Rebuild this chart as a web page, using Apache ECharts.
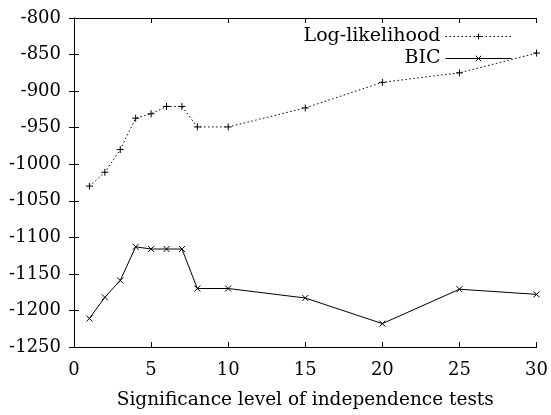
<!DOCTYPE html>
<html>
<head>
<meta charset="utf-8">
<script src="https://cdn.jsdelivr.net/npm/echarts@6/dist/echarts.min.js"></script>
<style>
  html, body { margin: 0; padding: 0; background: #fff; }
  #chart { width: 551px; height: 415px; }
</style>
</head>
<body>
<div id="chart"></div>
<script>
// values
const levels = [1, 2, 3, 4, 5, 6, 7, 8, 10, 15, 20, 25, 30];
const logLikelihood = [-1030, -1011, -980, -937, -931, -921, -921, -949, -949, -923, -888, -875, -848];
const bic = [-1211, -1182, -1159, -1113, -1116, -1116, -1116, -1170, -1170, -1183, -1218, -1171, -1178];
const xTicks = [0, 30, 5];
const yTicks = [-1250, -800, 50];

const font = '"DejaVu Serif", "Liberation Serif", serif';
const plus = 'path://M0,5L10,5M5,0L5,10';
const cross = 'path://M0,0L10,10M10,0L0,10';

const pairs = vals => levels.map((x, i) => [x, vals[i]]);

const tickStyle = { show: true, inside: true, length: 5, lineStyle: { color: '#000' } };
const lineAxis = { show: true, lineStyle: { color: '#000', width: 1 } };

const baseX = show => ({
  type: 'value',
  min: xTicks[0],
  max: xTicks[1],
  interval: xTicks[2],
  axisLine: lineAxis,
  axisTick: tickStyle,
  splitLine: { show: false },
  axisLabel: { show, color: '#000', fontFamily: font, fontSize: 18, margin: 14 }
});
const baseY = show => ({
  type: 'value',
  min: yTicks[0],
  max: yTicks[1],
  interval: yTicks[2],
  axisLine: lineAxis,
  axisTick: tickStyle,
  splitLine: { show: false },
  axisLabel: {
    show, color: '#000', fontFamily: font, fontSize: 18, margin: 13,
    formatter: v => String(v)
  }
});

const chart = echarts.init(document.getElementById('chart'), null, { renderer: 'canvas' });
chart.setOption({
  animation: false,
  backgroundColor: '#fff',
  grid: { left: 74, right: 12, top: 18, bottom: 66 },
  legend: {
    orient: 'vertical',
    right: 34,
    top: 22,
    align: 'right',
    itemWidth: 66,
    itemHeight: 7,
    itemGap: 3,
    padding: 5,
    lineStyle: { width: 1 },
    itemStyle: { borderWidth: 1 },
    textStyle: { color: '#000', fontFamily: font, fontSize: 19 },
    data: ['Log-likelihood', 'BIC']
  },
  xAxis: [
    Object.assign(baseX(true), {
      position: 'bottom',
      name: 'Significance level of independence tests',
      nameLocation: 'middle',
      nameGap: 44,
      nameTextStyle: { color: '#000', fontFamily: font, fontSize: 18.5 }
    }),
    Object.assign(baseX(false), { position: 'top' })
  ],
  yAxis: [
    Object.assign(baseY(true), { position: 'left' }),
    Object.assign(baseY(false), { position: 'right' })
  ],
  series: [
    {
      name: 'Log-likelihood',
      type: 'line',
      data: pairs(logLikelihood),
      symbol: plus,
      symbolSize: 7,
      showAllSymbol: true,
      lineStyle: { color: '#000', width: 1, type: [1.5, 2.5] },
      itemStyle: { color: 'none', borderColor: '#000', borderWidth: 1 }
    },
    {
      name: 'BIC',
      type: 'line',
      data: pairs(bic),
      symbol: cross,
      symbolSize: 6,
      showAllSymbol: true,
      lineStyle: { color: '#000', width: 1 },
      itemStyle: { color: 'none', borderColor: '#000', borderWidth: 1 }
    }
  ]
});
</script>
</body>
</html>
